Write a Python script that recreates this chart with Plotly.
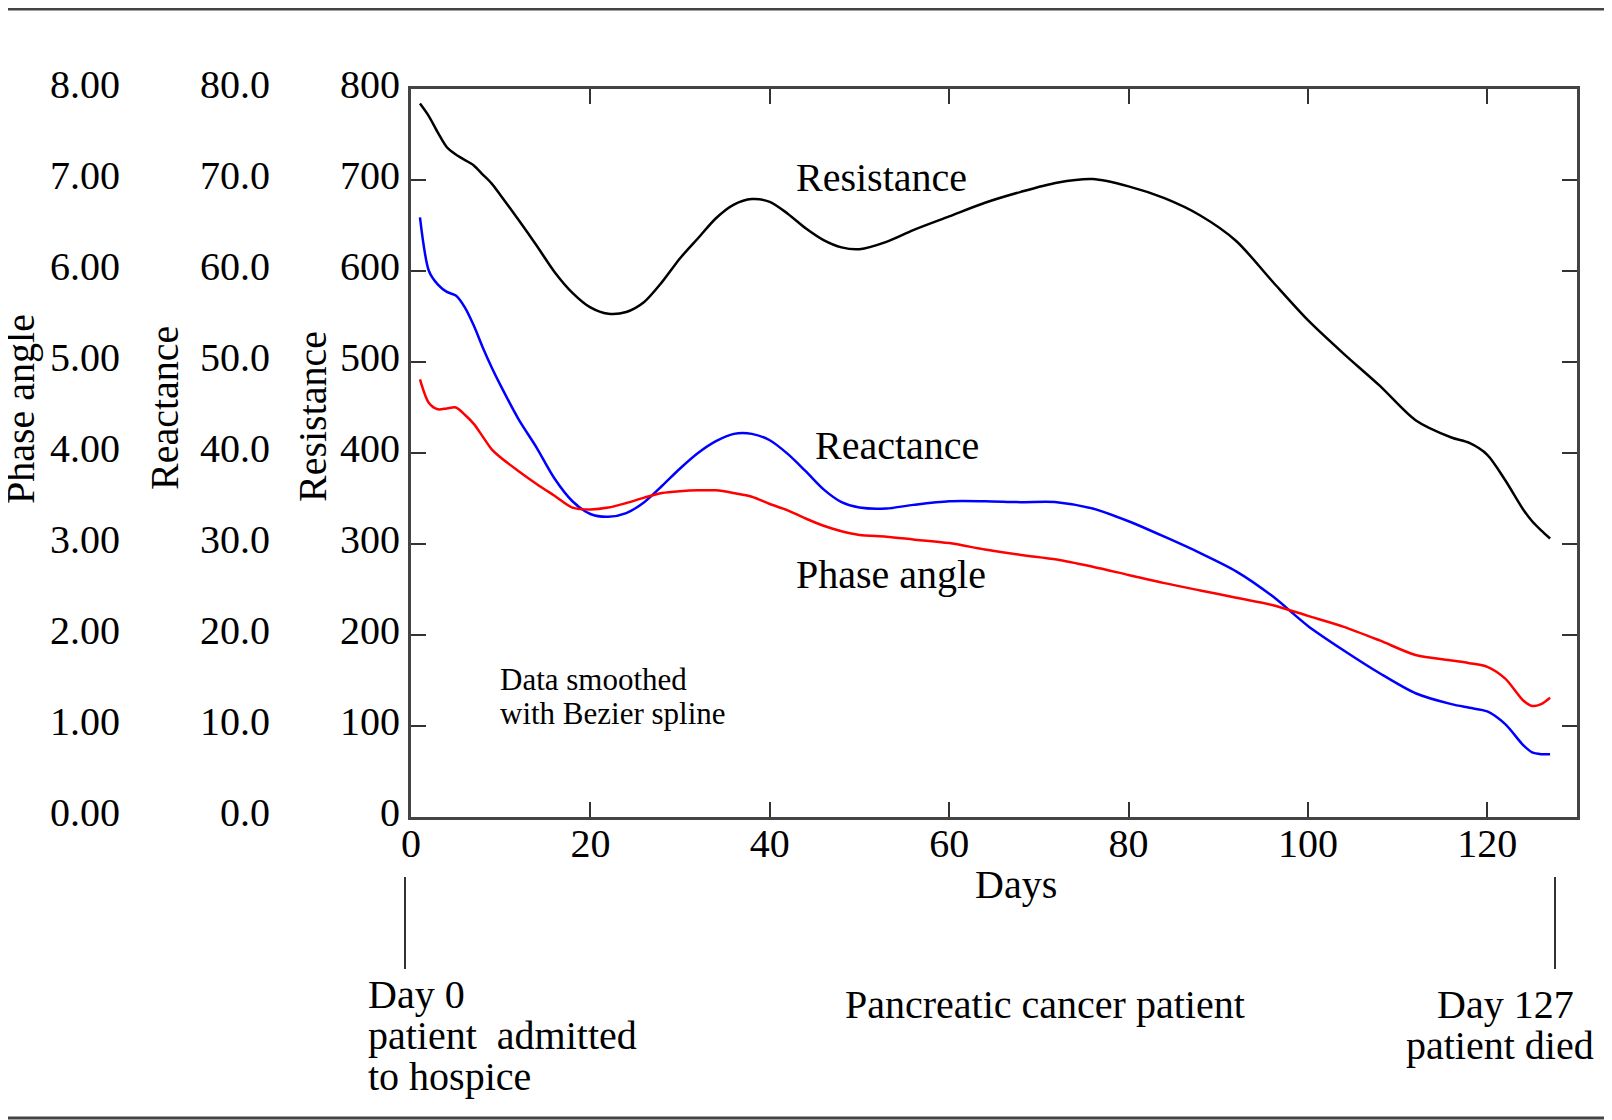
import plotly.graph_objects as go

# smoothed curves
days = [1, 2, 3, 4, 5, 6, 7, 8, 9, 10, 12, 14, 16, 18, 20, 22, 24, 26, 28, 30,
        32, 34, 36, 38, 40, 42, 44, 46, 48, 50, 53, 56, 60, 64, 68, 72, 76, 80,
        84, 88, 92, 96, 100, 104, 108, 112, 116, 118, 120, 122, 124, 125, 126, 127]

resistance = [784, 770, 752, 736, 728, 722, 716, 706, 696, 683, 656, 628, 599, 576,
              560, 553, 555, 566, 588, 614, 636, 658, 673, 679, 676, 663, 647, 634,
              626, 624, 632, 645, 660, 675, 687, 697, 701, 693, 680, 661, 633, 589,
              546, 509, 474, 436, 417, 411, 398, 370, 338, 325, 315, 306]

reactance = [65.9, 60.0, 58.5, 57.7, 57.3, 56.0, 54.0, 51.6, 49.4, 47.4, 43.7, 40.6,
             37.2, 34.7, 33.3, 33.0, 33.4, 34.6, 36.4, 38.3, 40.0, 41.3, 42.1, 42.1,
             41.4, 39.9, 38.0, 36.0, 34.6, 34.0, 33.9, 34.3, 34.7, 34.7, 34.6, 34.6,
             33.9, 32.5, 30.8, 29.0, 27.0, 24.3, 21.0, 18.3, 15.8, 13.6, 12.4, 12.0,
             11.6, 10.2, 7.9, 7.1, 6.9, 6.9]

phase_angle = [4.81, 4.55, 4.48, 4.49, 4.50, 4.42, 4.32, 4.18, 4.04, 3.95, 3.80, 3.66,
               3.53, 3.40, 3.38, 3.40, 3.45, 3.51, 3.56, 3.58, 3.59, 3.59, 3.56, 3.52,
               3.44, 3.37, 3.28, 3.20, 3.14, 3.10, 3.08, 3.05, 3.01, 2.94, 2.88, 2.83,
               2.75, 2.66, 2.57, 2.49, 2.41, 2.33, 2.21, 2.09, 1.94, 1.78, 1.72, 1.69,
               1.65, 1.52, 1.28, 1.22, 1.24, 1.31]

x_ticks = [0, 20, 40, 60, 80, 100, 120]
res_ticks = [0, 100, 200, 300, 400, 500, 600, 700, 800]
rea_ticks = [0, 10, 20, 30, 40, 50, 60, 70, 80]
pha_ticks = [0, 1, 2, 3, 4, 5, 6, 7, 8]

FONT = "Liberation Serif, Times New Roman, serif"
W, H = 1612, 1120
OFF = 8                      # page body margin
L, R, T, B = 403, 1569, 81, 809   # plot frame inside the figure

def px(x):
    # screen x -> paper x
    return (x - OFF) / R

def py(y):
    # screen y -> paper y
    return (B - (y - OFF)) / (B - T)

fig = go.Figure()
fig.add_trace(go.Scatter(x=days, y=resistance, mode="lines", yaxis="y",
                         line=dict(color="black", width=2.5, shape="spline", smoothing=0.8)))
fig.add_trace(go.Scatter(x=days, y=reactance, mode="lines", yaxis="y2",
                         line=dict(color="#0000ff", width=2.5, shape="spline", smoothing=0.8)))
fig.add_trace(go.Scatter(x=days, y=phase_angle, mode="lines", yaxis="y3",
                         line=dict(color="#ff0000", width=2.5, shape="spline", smoothing=0.8)))

tickfont = dict(family=FONT, size=40, color="black")

fig.update_layout(
    width=W, height=H,
    margin=dict(l=0, r=W - R, t=T, b=H - B),
    paper_bgcolor="white", plot_bgcolor="white",
    showlegend=False,
    xaxis=dict(domain=[L / R, 1], range=[0, 130], tickvals=x_ticks,
               ticks="inside", ticklen=15, tickwidth=1.5, tickcolor="#333",
               showline=True, linecolor="#444", linewidth=3, mirror="ticks",
               showgrid=False, zeroline=False, tickfont=tickfont, automargin=False,
               ticklabelstandoff=-11),
    yaxis=dict(range=[0, 800], tickvals=res_ticks,
               ticks="inside", ticklen=15, tickwidth=1.5, tickcolor="#333",
               showline=True, linecolor="#444", linewidth=3, mirror="ticks",
               showgrid=False, zeroline=False, tickfont=tickfont, automargin=False,
               ticklabelshift=-5),
    yaxis2=dict(range=[0, 80], tickvals=rea_ticks, tickformat=".1f",
                overlaying="y", anchor="free", position=px(270), side="left",
                showline=False, ticks="", showgrid=False, zeroline=False,
                tickfont=tickfont, automargin=False, ticklabelshift=-5),
    yaxis3=dict(range=[0, 8], tickvals=pha_ticks, tickformat=".2f",
                overlaying="y", anchor="free", position=px(120), side="left",
                showline=False, ticks="", showgrid=False, zeroline=False,
                tickfont=tickfont, automargin=False, ticklabelshift=-5),
)

# frame rules across the whole picture
for yy in (9, 1118):
    fig.add_shape(type="line", xref="paper", yref="paper",
                  x0=px(0), x1=px(W + OFF), y0=py(yy), y1=py(yy),
                  line=dict(color="#444", width=3))

# markers for admission and death
for xx in (405, 1555):
    fig.add_shape(type="line", xref="paper", yref="paper", x0=px(xx), x1=px(xx),
                  y0=py(877), y1=py(969), line=dict(color="#333", width=2))

def note(text, x, y, size=40, xanchor="center", xref="paper", yref="paper", angle=0):
    fig.add_annotation(text=text, x=x, y=y, xref=xref, yref=yref, showarrow=False,
                       xanchor=xanchor, yanchor="middle", textangle=angle,
                       font=dict(family=FONT, size=size, color="black"))

# axis titles
note("Phase angle", px(20), py(409), angle=-90)
note("Reactance", px(164), py(408), angle=-90)
note("Resistance", px(313), py(417), angle=-90)

# curve labels
note("Resistance", 52.5, 703, xref="x", yref="y")
note("Reactance", 54.2, 408, xref="x", yref="y")
note("Phase angle", 53.5, 267, xref="x", yref="y")
note("Data smoothed", 9.7, 151, size=31, xanchor="left", xref="x", yref="y")
note("with Bezier spline", 9.7, 114, size=31, xanchor="left", xref="x", yref="y")

note("Days", px(1016), py(884))
note("Day 0", px(366), py(994), xanchor="left")
note("patient\u00a0 admitted", px(366), py(1035), xanchor="left")
note("to hospice", px(366), py(1076), xanchor="left")
note("Pancreatic cancer patient", px(1045), py(1004))
note("Day 127", px(1505), py(1004))
note("patient died", px(1500), py(1045))

fig.write_html("out.html")
